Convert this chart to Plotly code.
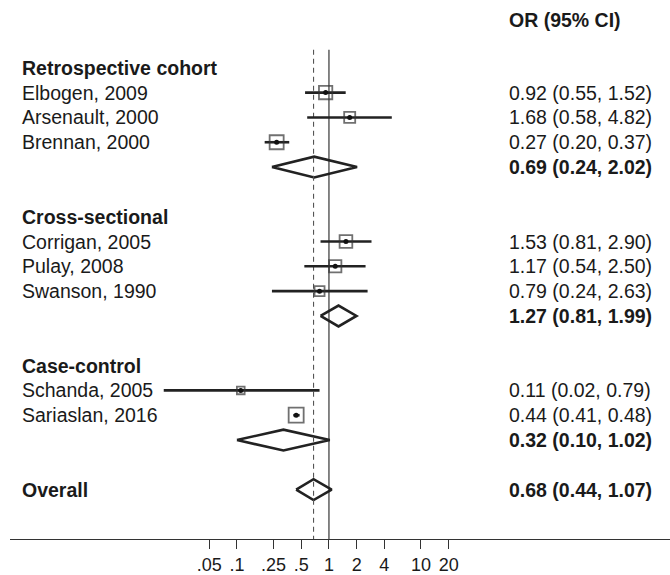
import math
import plotly.graph_objects as go

# ---------------- data ----------------
groups = ["Retrospective cohort", "Cross-sectional", "Case-control"]
studies = ["Elbogen, 2009", "Arsenault, 2000", "Brennan, 2000",
           "Corrigan, 2005", "Pulay, 2008", "Swanson, 1990",
           "Schanda, 2005", "Sariaslan, 2016"]
study_group = [0, 0, 0, 1, 1, 1, 2, 2]
study_or = [0.92, 1.68, 0.27, 1.53, 1.17, 0.79, 0.11, 0.44]
study_lo = [0.55, 0.58, 0.20, 0.81, 0.54, 0.24, 0.016, 0.41]
study_hi = [1.52, 4.82, 0.37, 2.90, 2.50, 2.63, 0.79, 0.48]
study_weight = [14.9, 10.2, 16.5, 13.5, 12.7, 8.4, 5.0, 18.9]

group_or = [0.69, 1.27, 0.32]
group_lo = [0.24, 0.81, 0.10]
group_hi = [2.02, 1.99, 1.02]

overall_or, overall_lo, overall_hi = 0.68, 0.44, 1.07

tick_vals = [0.05, 0.1, 0.25, 0.5, 1, 2, 4, 10, 20]
tick_text = [".05", ".1", ".25", ".5", "1", "2", "4", "10", "20"]

# ---------------- layout helpers ----------------
FONT = "Liberation Sans, Arial, Helvetica, sans-serif"
TXT = "#1a1a1a"
LINE = "#222222"
FS = 19.5

def fmt(o, l, h):
    return f"{o:.2f} ({l:.2f}, {h:.2f})"

fig = go.Figure()
annotations = []

def label(row, text, bold=False):
    t = f"<b>{text}</b>" if bold else text
    annotations.append(dict(x=0.0159, y=row, xref="paper", yref="y", text=t,
                            showarrow=False, xanchor="left", yanchor="middle",
                            font=dict(family=FONT, size=FS, color=TXT)))

def right(row, text, bold=False):
    t = f"<b>{text}</b>" if bold else text
    annotations.append(dict(x=0.753, y=row, xref="paper", yref="y", text=t,
                            showarrow=False, xanchor="left", yanchor="middle",
                            font=dict(family=FONT, size=FS, color=TXT)))

def diamond(row, o, l, h):
    hh = 0.42
    fig.add_trace(go.Scatter(x=[l, o, h, o, l], y=[row, row - hh, row, row + hh, row],
                             mode="lines", line=dict(color=LINE, width=2.6),
                             hoverinfo="skip", showlegend=False))

row = 0
ci_x, ci_y = [], []
box_x, box_y, box_s = [], [], []
for g, gname in enumerate(groups):
    label(row, gname, bold=True)
    row += 1
    for i, s in enumerate(studies):
        if study_group[i] != g:
            continue
        label(row, s)
        right(row, fmt(study_or[i], study_lo[i], study_hi[i]))
        ci_x += [study_lo[i], study_hi[i], None]
        ci_y += [row, row, None]
        box_x.append(study_or[i])
        box_y.append(row)
        box_s.append(3.45 * math.sqrt(study_weight[i]))
        row += 1
    diamond(row, group_or[g], group_lo[g], group_hi[g])
    right(row, fmt(group_or[g], group_lo[g], group_hi[g]), bold=True)
    row += 2

label(row, "Overall", bold=True)
right(row, fmt(overall_or, overall_lo, overall_hi), bold=True)
diamond(row, overall_or, overall_lo, overall_hi)
overall_row = row

annotations.append(dict(x=0.753, y=-1.93, xref="paper", yref="y",
                        text="<b>OR (95% CI)</b>", showarrow=False,
                        xanchor="left", yanchor="middle",
                        font=dict(family=FONT, size=FS, color=TXT)))

# reference lines
top_row = -0.73
fig.add_trace(go.Scatter(x=[1, 1], y=[top_row, 20], mode="lines",
                         line=dict(color=LINE, width=1.1),
                         hoverinfo="skip", showlegend=False))
fig.add_trace(go.Scatter(x=[overall_or, overall_or], y=[top_row, 20], mode="lines",
                         line=dict(color="#555555", width=1.1, dash="5px,4px"),
                         hoverinfo="skip", showlegend=False))

# CIs
fig.add_trace(go.Scatter(x=ci_x, y=ci_y, mode="lines",
                         line=dict(color=LINE, width=2.6),
                         hoverinfo="skip", showlegend=False))
# boxes
fig.add_trace(go.Scatter(x=box_x, y=box_y, mode="markers",
                         marker=dict(symbol="square-open", size=box_s,
                                     color="#333333", line=dict(width=1.8, color="#333333")),
                         hoverinfo="skip", showlegend=False))
# dots
fig.add_trace(go.Scatter(x=box_x, y=box_y, mode="markers",
                         marker=dict(symbol="circle", size=5, color="#111111"),
                         hoverinfo="skip", showlegend=False))

fig.update_layout(
    width=670, height=575,
    margin=dict(l=10, r=0, t=0, b=32, pad=0),
    paper_bgcolor="white", plot_bgcolor="white",
    annotations=annotations,
    showlegend=False,
    xaxis=dict(type="log", range=[-3.467, 3.707], showgrid=False, zeroline=False,
               showline=True, linecolor="#333333", linewidth=1.3,
               ticks="outside", ticklen=9, tickwidth=1.1, tickcolor="#333333",
               tickvals=tick_vals, ticktext=tick_text,
               tickfont=dict(family=FONT, size=18, color=TXT),
               fixedrange=True),
    yaxis=dict(range=[18.988, -2.732], visible=False, showgrid=False,
               zeroline=False, fixedrange=True),
)

fig.write_html("out.html", config={"displayModeBar": False},
               post_script="document.body.style.margin='0px';document.body.style.overflow='hidden';")
